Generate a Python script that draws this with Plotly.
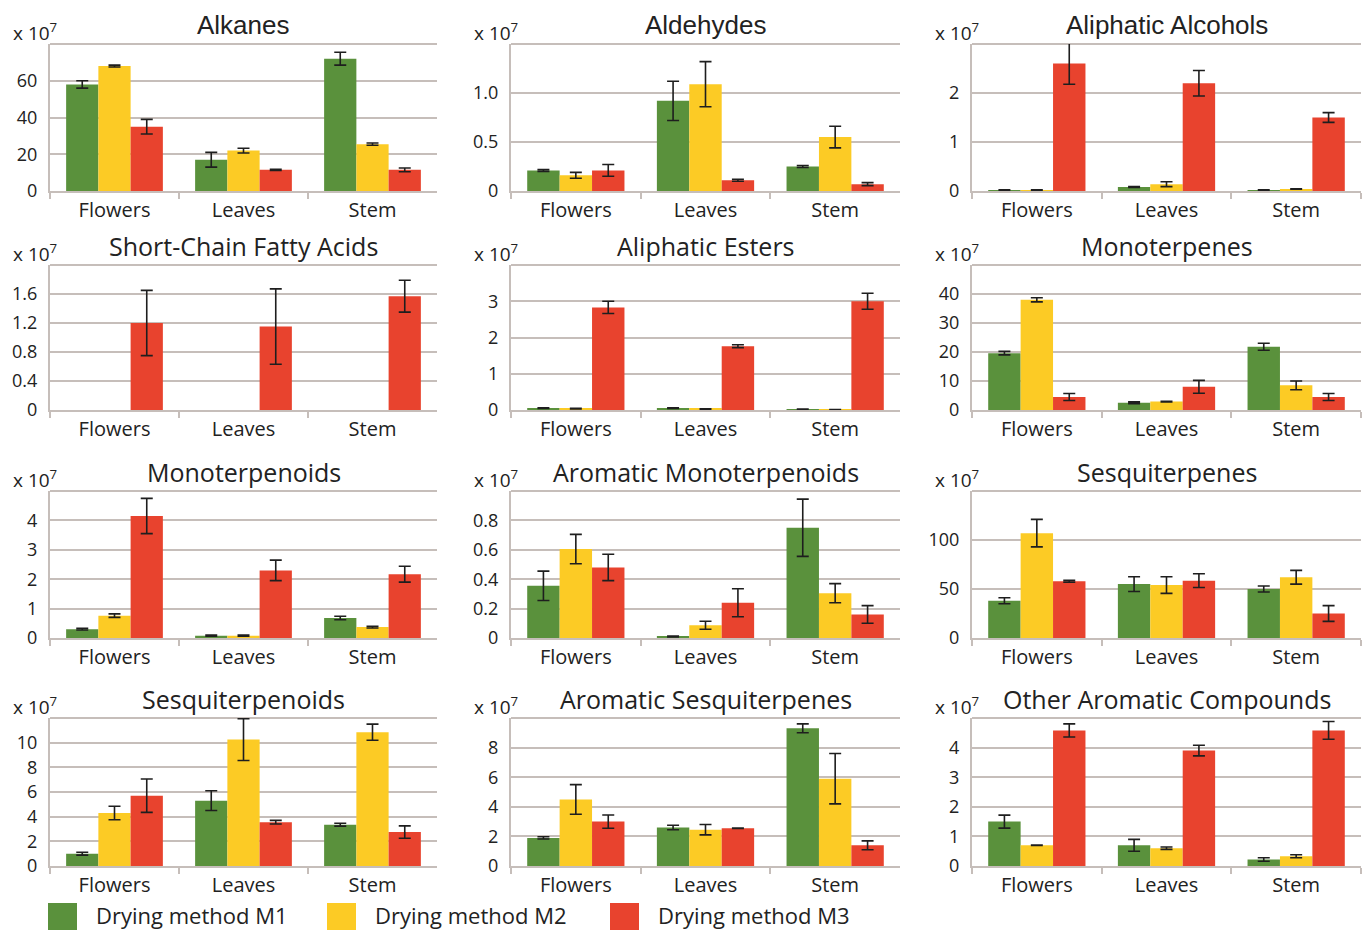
import plotly.graph_objects as go

categories = ["Flowers", "Leaves", "Stem"]
series_names = ["Drying method M1", "Drying method M2", "Drying method M3"]
colors = ["#5a913c", "#fccb25", "#e8432e"]

titles = ["Alkanes", "Aldehydes", "Aliphatic Alcohols",
          "Short-Chain Fatty Acids", "Aliphatic Esters", "Monoterpenes",
          "Monoterpenoids", "Aromatic Monoterpenoids", "Sesquiterpenes",
          "Sesquiterpenoids", "Aromatic Sesquiterpenes", "Other Aromatic Compounds"]

# values (x 10^7) per panel: [Flowers, Leaves, Stem]; None = not detected
m1_values = [[58, 17, 72], [0.21, 0.92, 0.25], [0.02, 0.08, 0.02],
             [None, None, None], [0.05, 0.05, 0.02], [19.6, 2.5, 21.8],
             [0.30, 0.08, 0.68], [0.355, 0.01, 0.75], [38, 55, 50],
             [1.0, 5.3, 3.35], [1.9, 2.6, 9.3], [1.5, 0.7, 0.22]]
m2_values = [[68, 22, 25.5], [0.16, 1.09, 0.55], [0.02, 0.14, 0.04],
             [None, None, None], [0.04, 0.03, 0.01], [38, 2.9, 8.5],
             [0.76, 0.08, 0.37], [0.605, 0.087, 0.305], [107, 54, 62],
             [4.3, 10.25, 10.85], [4.5, 2.45, 5.9], [0.70, 0.60, 0.33]]
m3_values = [[35, 11.5, 11.5], [0.21, 0.11, 0.07], [2.6, 2.2, 1.5],
             [1.2, 1.15, 1.57], [2.83, 1.76, 3.0], [4.5, 8.0, 4.5],
             [4.15, 2.3, 2.17], [0.48, 0.24, 0.16], [58, 58.5, 25],
             [5.7, 3.55, 2.75], [3.0, 2.55, 1.4], [4.58, 3.9, 4.58]]
m1_errors = [[2, 4, 3.5], [0.01, 0.2, 0.01], [0.005, 0.01, 0.005],
             [0, 0, 0], [0.01, 0.01, 0.005], [0.6, 0.3, 1.2],
             [0.03, 0.02, 0.06], [0.1, 0.003, 0.195], [3, 7.5, 3],
             [0.12, 0.8, 0.12], [0.08, 0.15, 0.3], [0.22, 0.2, 0.06]]
m2_errors = [[0.5, 1.3, 0.6], [0.03, 0.23, 0.11], [0.005, 0.05, 0.005],
             [0, 0, 0], [0.01, 0.005, 0.003], [0.7, 0.1, 1.5],
             [0.06, 0.02, 0.03], [0.1, 0.027, 0.065], [14, 8.5, 7],
             [0.55, 1.7, 0.65], [1.0, 0.35, 1.7], [0.005, 0.04, 0.05]]
m3_errors = [[4, 0.3, 1], [0.06, 0.01, 0.015], [0.42, 0.26, 0.1],
             [0.45, 0.52, 0.22], [0.17, 0.04, 0.22], [1.2, 2.2, 1.2],
             [0.6, 0.35, 0.27], [0.09, 0.095, 0.06], [1, 7, 8],
             [1.35, 0.15, 0.5], [0.45, 0.02, 0.3], [0.22, 0.18, 0.3]]

y_max = [80, 1.5, 3, 2, 4, 50, 5, 1.0, 150, 12, 10, 5]
y_ticks = [[0, 20, 40, 60], [0, 0.5, 1.0], [0, 1, 2],
           [0, 0.4, 0.8, 1.2, 1.6], [0, 1, 2, 3], [0, 10, 20, 30, 40],
           [0, 1, 2, 3, 4], [0, 0.2, 0.4, 0.6, 0.8], [0, 50, 100],
           [0, 2, 4, 6, 8, 10], [0, 2, 4, 6, 8], [0, 1, 2, 3, 4]]
y_tick_labels = [["0", "20", "40", "60"], ["0", "0.5", "1.0"], ["0", "1", "2"],
                 ["0", "0.4", "0.8", "1.2", "1.6"], ["0", "1", "2", "3"], ["0", "10", "20", "30", "40"],
                 ["0", "1", "2", "3", "4"], ["0", "0.2", "0.4", "0.6", "0.8"], ["0", "50", "100"],
                 ["0", "2", "4", "6", "8", "10"], ["0", "2", "4", "6", "8"], ["0", "1", "2", "3", "4"]]

W, H = 1370, 931
col_px = [(50, 437), (511, 900), (972, 1361)]
row_px = [(44, 191), (265, 410), (491, 638), (718, 866)]

GRID = "#c6beba"
TEXT = "#222222"
BODY_FONT = "Open Sans"

values = [m1_values, m2_values, m3_values]
errors = [m1_errors, m2_errors, m3_errors]

fig = go.Figure()
annotations = []
shapes = []
layout_axes = {}

for i in range(12):
    r, c = divmod(i, 3)
    n = i + 1
    xs = "x" if n == 1 else f"x{n}"
    ys = "y" if n == 1 else f"y{n}"
    xkey = "xaxis" if n == 1 else f"xaxis{n}"
    ykey = "yaxis" if n == 1 else f"yaxis{n}"
    x0, x1 = col_px[c][0] / W, col_px[c][1] / W
    y1, y0 = 1 - row_px[r][0] / H, 1 - row_px[r][1] / H

    for k in range(3):
        fig.add_trace(go.Bar(
            x=categories, y=values[k][i], name=series_names[k],
            marker=dict(color=colors[k], line=dict(width=0)),
            error_y=dict(type="data", array=errors[k][i], visible=True,
                         color="#1e1e1e", thickness=1.6, width=6),
            showlegend=False, xaxis=xs, yaxis=ys, offsetgroup=str(k),
            cliponaxis=False))

    layout_axes[xkey] = dict(
        domain=[x0, x1], anchor=ys, type="category", range=[-0.5, 2.5],
        automargin=False,
        tickson="boundaries", ticks="outside", ticklen=6, tickwidth=2, tickcolor=GRID,
        showline=True, linecolor=GRID, linewidth=2, showgrid=False,
        tickfont=dict(family=BODY_FONT, size=20, color=TEXT), fixedrange=True)
    layout_axes[ykey] = dict(
        domain=[y0, y1], anchor=xs, range=[0, y_max[i]],
        automargin=False,
        tickmode="array", tickvals=y_ticks[i], ticktext=y_tick_labels[i],
        showline=True, linecolor=GRID, linewidth=2,
        showgrid=True, gridcolor=GRID, gridwidth=2, zeroline=False,
        ticks="", ticklabelstandoff=7,
        tickfont=dict(family=BODY_FONT, size=18, color=TEXT), fixedrange=True)

    # top gridline of the panel (unlabelled in the reference)
    shapes.append(dict(type="line", xref=f"{xs} domain", yref=f"{ys} domain",
                       x0=0, x1=1, y0=1, y1=1, layer="below",
                       line=dict(color=GRID, width=2)))

    title_font = "Liberation Sans" if r == 0 else BODY_FONT
    annotations.append(dict(
        text=titles[i], x=(x0 + x1) / 2, y=y1, xref="paper", yref="paper",
        xanchor="center", yanchor="middle", yshift=19, showarrow=False,
        font=dict(family=title_font, size=26 if r == 0 else 25, color=TEXT)))
    annotations.append(dict(
        text="x 10<sup>7</sup>", x=x0, y=y1, xref="paper", yref="paper",
        xanchor="right", yanchor="middle", xshift=9, yshift=12, showarrow=False,
        font=dict(family=BODY_FONT, size=19, color=TEXT)))

# legend drawn below the panels
legend_square_px = [48, 327, 610]
for k in range(3):
    sx = legend_square_px[k]
    shapes.append(dict(type="rect", xref="paper", yref="paper",
                       x0=sx / W, x1=(sx + 29) / W, y0=1 - 930 / H, y1=1 - 903 / H,
                       fillcolor=colors[k], line=dict(width=0)))
    annotations.append(dict(
        text=series_names[k], x=(sx + 46) / W, y=1 - 915 / H, xref="paper", yref="paper",
        xanchor="left", yanchor="middle", showarrow=False,
        font=dict(family=BODY_FONT, size=22, color=TEXT)))

fig.update_layout(
    width=W, height=H, autosize=False,
    margin=dict(l=0, r=0, t=0, b=0, pad=0, autoexpand=False),
    paper_bgcolor="white", plot_bgcolor="white",
    barmode="group", bargap=0.25, bargroupgap=0,
    annotations=annotations, shapes=shapes, showlegend=False,
    **layout_axes)

fig.write_html("out.html", config={"displayModeBar": False, "responsive": False},
               post_script="document.body.style.margin='0';document.body.style.overflow='hidden';")
